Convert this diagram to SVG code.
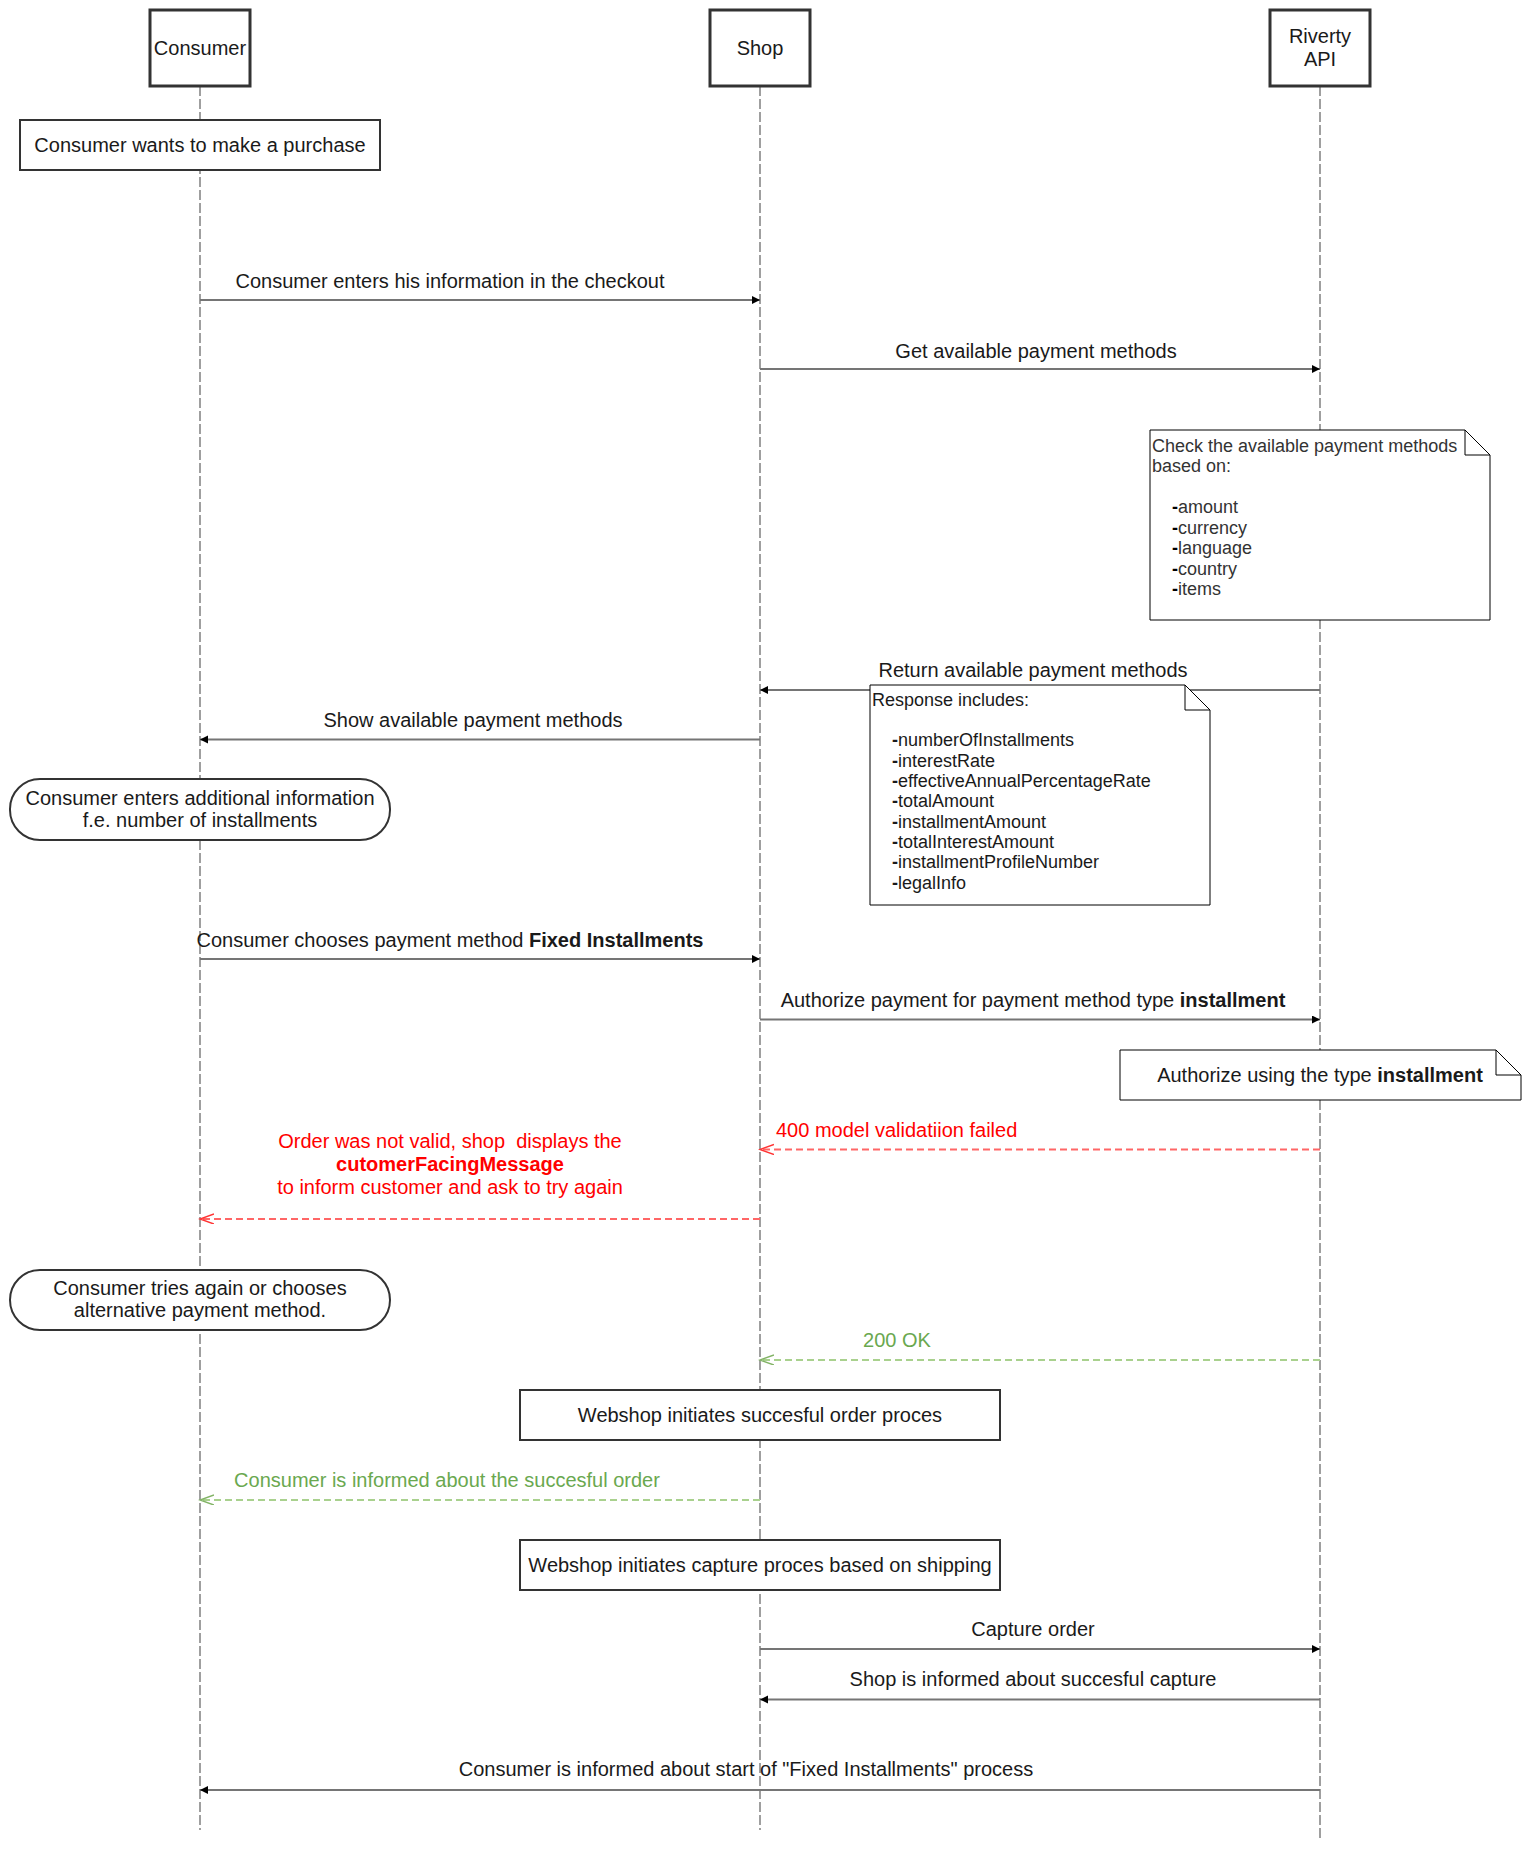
<svg xmlns="http://www.w3.org/2000/svg" width="1540" height="1874" viewBox="0 0 1540 1874">
<style>
text{font-family:"Liberation Sans",Arial,Helvetica,sans-serif;font-size:20px;fill:#1a1a1a}
.c{text-anchor:middle}
.s18{font-size:18px}
.g3{fill:#333}
.b{font-weight:bold}
.pre{white-space:pre}
.actor{fill:#fff;stroke:#333;stroke-width:3}
.box{fill:#fff;stroke:#333;stroke-width:2}
.note{fill:#fff;stroke:#000;stroke-width:1}
.fold{fill:none;stroke:#000;stroke-width:1}
.life{stroke:#808080;stroke-width:1.5;stroke-dasharray:10 3;fill:none}
.msg{stroke:#757575;stroke-width:2;fill:none;marker-end:url(#blk)}
.red{stroke:#ff6666;stroke-width:2;fill:none;stroke-dasharray:7 4;marker-end:url(#ored)}
.grn{stroke:#a9d18e;stroke-width:2;fill:none;stroke-dasharray:7 4;marker-end:url(#ogrn)}
.rt{fill:#ff0000}
.gt{fill:#6aa84f}
</style>
<defs>
<marker id="blk" markerUnits="userSpaceOnUse" markerWidth="10" markerHeight="10" refX="8" refY="4" orient="auto"><path d="M0,0 L8,4 L0,8 Z" fill="#000"/></marker>
<marker id="ored" markerUnits="userSpaceOnUse" markerWidth="16" markerHeight="12" refX="14" refY="5" orient="auto"><path d="M0,0 L14,5 L0,10" fill="none" stroke="#ff3333" stroke-width="1.5"/></marker>
<marker id="ogrn" markerUnits="userSpaceOnUse" markerWidth="16" markerHeight="12" refX="14" refY="5" orient="auto"><path d="M0,0 L14,5 L0,10" fill="none" stroke="#82b366" stroke-width="1.5"/></marker>
</defs>
<rect width="1540" height="1874" fill="#fff"/>
<g id="lifelines">
<path class="life" d="M200,86 V1830"/>
<path class="life" d="M760,86 V1830"/>
<path class="life" d="M1320,86 V1840"/>
</g>
<g id="connectors">
<path class="msg" d="M200,300 H760"/>
<text class="c" x="450" y="287.5">Consumer enters his information in the checkout</text>
<path class="msg" d="M760,369 H1320"/>
<text class="c" x="1036" y="357.5">Get available payment methods</text>
<path class="msg" d="M1320,690 H760"/>
<text class="c" x="1033" y="676.5">Return available payment methods</text>
<path class="msg" d="M760,739.5 H200"/>
<text class="c" x="473" y="726.5">Show available payment methods</text>
<path class="msg" d="M200,959 H760"/>
<text class="c" x="450" y="946.5">Consumer chooses payment method <tspan class="b">Fixed Installments</tspan></text>
<path class="msg" d="M760,1019.5 H1320"/>
<text class="c" x="1033" y="1006.5">Authorize payment for payment method type <tspan class="b">installment</tspan></text>
<path class="red" d="M1320,1149.5 H760"/>
<text class="rt" x="776" y="1136.5">400 model validatiion failed</text>
<path class="red" d="M760,1219 H200"/>
<text class="c rt pre" x="450" y="1147.5">Order was not valid, shop  displays the</text>
<text class="c rt b" x="450" y="1170.5">cutomerFacingMessage</text>
<text class="c rt" x="450" y="1193.5">to inform customer and ask to try again</text>
<path class="grn" d="M1320,1360 H760"/>
<text class="c gt" x="897" y="1346.5">200 OK</text>
<path class="grn" d="M760,1500 H200"/>
<text class="c gt" x="447" y="1486.5">Consumer is informed about the succesful order</text>
<path class="msg" d="M760,1649 H1320"/>
<text class="c" x="1033" y="1635.5">Capture order</text>
<path class="msg" d="M1320,1699.5 H760"/>
<text class="c" x="1033" y="1686">Shop is informed about succesful capture</text>
<path class="msg" d="M1320,1790 H200"/>
<text class="c" x="746" y="1775.5">Consumer is informed about start of "Fixed Installments" process</text>
</g>
<g id="consumer">
<rect class="actor" x="150" y="10" width="100" height="76"/>
<text class="c" x="200" y="54.5">Consumer</text>
</g>
<g id="shop">
<rect class="actor" x="710" y="10" width="100" height="76"/>
<text class="c" x="760" y="54.5">Shop</text>
</g>
<g id="riverty">
<rect class="actor" x="1270" y="10" width="100" height="76"/>
<text class="c" x="1320" y="43">Riverty</text>
<text class="c" x="1320" y="66">API</text>
</g>
<g id="purchase">
<rect class="box" x="20" y="120" width="360" height="50" stroke-width="1.5"/>
<text class="c" x="200" y="152">Consumer wants to make a purchase</text>
</g>
<g id="note-check">
<path class="note" d="M1150,430 H1465 L1490,455 V620 H1150 Z"/>
<path class="fold" d="M1465,430 V455 H1490"/>
<text class="s18 g3" x="1152" y="452">Check the available payment methods</text>
<text class="s18 g3" x="1152" y="472">based on:</text>
<text class="s18 g3" x="1172" y="513"><tspan class="b" fill="#000">-</tspan>amount</text>
<text class="s18 g3" x="1172" y="533.5"><tspan class="b" fill="#000">-</tspan>currency</text>
<text class="s18 g3" x="1172" y="554"><tspan class="b" fill="#000">-</tspan>language</text>
<text class="s18 g3" x="1172" y="574.5"><tspan class="b" fill="#000">-</tspan>country</text>
<text class="s18 g3" x="1172" y="595"><tspan class="b" fill="#000">-</tspan>items</text>
</g>
<g id="note-response">
<path class="note" d="M870,685 H1185 L1210,710 V905 H870 Z"/>
<path class="fold" d="M1185,685 V710 H1210"/>
<text class="s18" x="872" y="706">Response includes:</text>
<text class="s18" x="892" y="746"><tspan class="b">-</tspan>numberOfInstallments</text>
<text class="s18" x="892" y="766.5"><tspan class="b">-</tspan>interestRate</text>
<text class="s18" x="892" y="787"><tspan class="b">-</tspan>effectiveAnnualPercentageRate</text>
<text class="s18" x="892" y="807"><tspan class="b">-</tspan>totalAmount</text>
<text class="s18" x="892" y="827.5"><tspan class="b">-</tspan>installmentAmount</text>
<text class="s18" x="892" y="848"><tspan class="b">-</tspan>totalInterestAmount</text>
<text class="s18" x="892" y="868"><tspan class="b">-</tspan>installmentProfileNumber</text>
<text class="s18" x="892" y="888.5"><tspan class="b">-</tspan>legalInfo</text>
</g>
<g id="additional-info">
<rect class="box" x="10" y="779" width="380" height="61" rx="30" ry="30"/>
<text class="c" x="200" y="805">Consumer enters additional information</text>
<text class="c" x="200" y="827">f.e. number of installments</text>
</g>
<g id="note-authorize">
<path class="note" d="M1120,1050 H1496 L1521,1075 V1100 H1120 Z"/>
<path class="fold" d="M1496,1050 V1075 H1521"/>
<text class="c" x="1320" y="1082">Authorize using the type <tspan class="b">installment</tspan></text>
</g>
<g id="retry">
<rect class="box" x="10" y="1270" width="380" height="60" rx="30" ry="30"/>
<text class="c" x="200" y="1295">Consumer tries again or chooses</text>
<text class="c" x="200" y="1317">alternative payment method.</text>
</g>
<g id="order-proces">
<rect class="box" x="520" y="1390" width="480" height="50"/>
<text class="c" x="760" y="1422">Webshop initiates succesful order proces</text>
</g>
<g id="capture-proces">
<rect class="box" x="520" y="1540" width="480" height="50"/>
<text class="c" x="760" y="1572">Webshop initiates capture proces based on shipping</text>
</g>
</svg>
